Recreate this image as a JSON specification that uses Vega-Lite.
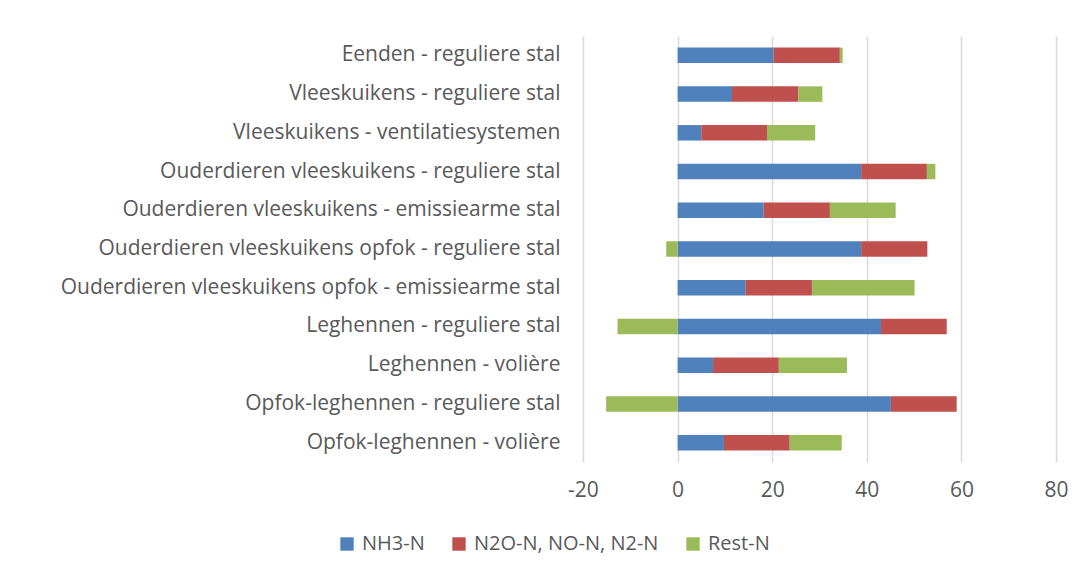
{
  "$schema": "https://vega.github.io/schema/vega-lite/v6.json",
  "autosize": "none",
  "width": 473,
  "height": 426,
  "padding": {"left": 583, "top": 36, "right": 31, "bottom": 113},
  "background": "white",
  "config": {
    "view": {"stroke": null},
    "font": "Open Sans"
  },
  "data": {
    "values": [
      {"categorie": "Eenden - reguliere stal", "component": "NH3-N", "waarde": 20.3, "volgorde": 1},
      {"categorie": "Eenden - reguliere stal", "component": "N2O-N, NO-N, N2-N", "waarde": 14.0, "volgorde": 2},
      {"categorie": "Eenden - reguliere stal", "component": "Rest-N", "waarde": 0.6, "volgorde": 3},
      {"categorie": "Vleeskuikens - reguliere stal", "component": "NH3-N", "waarde": 11.5, "volgorde": 1},
      {"categorie": "Vleeskuikens - reguliere stal", "component": "N2O-N, NO-N, N2-N", "waarde": 14.0, "volgorde": 2},
      {"categorie": "Vleeskuikens - reguliere stal", "component": "Rest-N", "waarde": 5.1, "volgorde": 3},
      {"categorie": "Vleeskuikens - ventilatiesystemen", "component": "NH3-N", "waarde": 5.0, "volgorde": 1},
      {"categorie": "Vleeskuikens - ventilatiesystemen", "component": "N2O-N, NO-N, N2-N", "waarde": 13.9, "volgorde": 2},
      {"categorie": "Vleeskuikens - ventilatiesystemen", "component": "Rest-N", "waarde": 10.2, "volgorde": 3},
      {"categorie": "Ouderdieren vleeskuikens - reguliere stal", "component": "NH3-N", "waarde": 38.8, "volgorde": 1},
      {"categorie": "Ouderdieren vleeskuikens - reguliere stal", "component": "N2O-N, NO-N, N2-N", "waarde": 13.9, "volgorde": 2},
      {"categorie": "Ouderdieren vleeskuikens - reguliere stal", "component": "Rest-N", "waarde": 1.8, "volgorde": 3},
      {"categorie": "Ouderdieren vleeskuikens - emissiearme stal", "component": "NH3-N", "waarde": 18.2, "volgorde": 1},
      {"categorie": "Ouderdieren vleeskuikens - emissiearme stal", "component": "N2O-N, NO-N, N2-N", "waarde": 14.0, "volgorde": 2},
      {"categorie": "Ouderdieren vleeskuikens - emissiearme stal", "component": "Rest-N", "waarde": 13.9, "volgorde": 3},
      {"categorie": "Ouderdieren vleeskuikens opfok - reguliere stal", "component": "NH3-N", "waarde": 38.8, "volgorde": 1},
      {"categorie": "Ouderdieren vleeskuikens opfok - reguliere stal", "component": "N2O-N, NO-N, N2-N", "waarde": 14.0, "volgorde": 2},
      {"categorie": "Ouderdieren vleeskuikens opfok - reguliere stal", "component": "Rest-N", "waarde": -2.4, "volgorde": 3},
      {"categorie": "Ouderdieren vleeskuikens opfok - emissiearme stal", "component": "NH3-N", "waarde": 14.4, "volgorde": 1},
      {"categorie": "Ouderdieren vleeskuikens opfok - emissiearme stal", "component": "N2O-N, NO-N, N2-N", "waarde": 14.0, "volgorde": 2},
      {"categorie": "Ouderdieren vleeskuikens opfok - emissiearme stal", "component": "Rest-N", "waarde": 21.7, "volgorde": 3},
      {"categorie": "Leghennen - reguliere stal", "component": "NH3-N", "waarde": 43.0, "volgorde": 1},
      {"categorie": "Leghennen - reguliere stal", "component": "N2O-N, NO-N, N2-N", "waarde": 13.9, "volgorde": 2},
      {"categorie": "Leghennen - reguliere stal", "component": "Rest-N", "waarde": -12.7, "volgorde": 3},
      {"categorie": "Leghennen - volière", "component": "NH3-N", "waarde": 7.5, "volgorde": 1},
      {"categorie": "Leghennen - volière", "component": "N2O-N, NO-N, N2-N", "waarde": 13.9, "volgorde": 2},
      {"categorie": "Leghennen - volière", "component": "Rest-N", "waarde": 14.4, "volgorde": 3},
      {"categorie": "Opfok-leghennen - reguliere stal", "component": "NH3-N", "waarde": 45.1, "volgorde": 1},
      {"categorie": "Opfok-leghennen - reguliere stal", "component": "N2O-N, NO-N, N2-N", "waarde": 13.9, "volgorde": 2},
      {"categorie": "Opfok-leghennen - reguliere stal", "component": "Rest-N", "waarde": -15.1, "volgorde": 3},
      {"categorie": "Opfok-leghennen - volière", "component": "NH3-N", "waarde": 9.8, "volgorde": 1},
      {"categorie": "Opfok-leghennen - volière", "component": "N2O-N, NO-N, N2-N", "waarde": 13.9, "volgorde": 2},
      {"categorie": "Opfok-leghennen - volière", "component": "Rest-N", "waarde": 11.0, "volgorde": 3}
    ]
  },
  "mark": {"type": "bar"},
  "encoding": {
    "y": {
      "field": "categorie",
      "type": "nominal",
      "sort": null,
      "title": null,
      "scale": {"paddingInner": 0.6, "paddingOuter": 0.3},
      "axis": {
        "domain": false,
        "ticks": false,
        "grid": false,
        "labelPadding": 23,
        "labelFontSize": 21,
        "labelColor": "#595959",
        "labelLimit": 700
      }
    },
    "x": {
      "field": "waarde",
      "type": "quantitative",
      "stack": "zero",
      "title": null,
      "scale": {"domain": [-20, 80], "nice": false, "zero": false},
      "axis": {
        "values": [-20, 0, 20, 40, 60, 80],
        "labelExpr": "datum.value < 0 ? '-' + abs(datum.value) : '' + datum.value",
        "domain": false,
        "ticks": false,
        "grid": true,
        "gridColor": "#d9d9d9",
        "gridWidth": 1.5,
        "labelPadding": 17,
        "labelFontSize": 21,
        "labelColor": "#595959",
        "labelFlush": false
      }
    },
    "color": {
      "field": "component",
      "type": "nominal",
      "title": null,
      "scale": {
        "domain": ["NH3-N", "N2O-N, NO-N, N2-N", "Rest-N"],
        "range": ["#4f81bd", "#c0504d", "#9bbb59"]
      },
      "legend": {
        "orient": "none",
        "direction": "horizontal",
        "legendX": -246,
        "legendY": 498,
        "symbolType": "square",
        "symbolSize": 180,
        "symbolStrokeWidth": 0,
        "labelFontSize": 20,
        "labelColor": "#595959",
        "labelOffset": 5,
        "columnPadding": 24,
        "labelLimit": 400
      }
    },
    "order": {"field": "volgorde", "type": "quantitative"}
  }
}
